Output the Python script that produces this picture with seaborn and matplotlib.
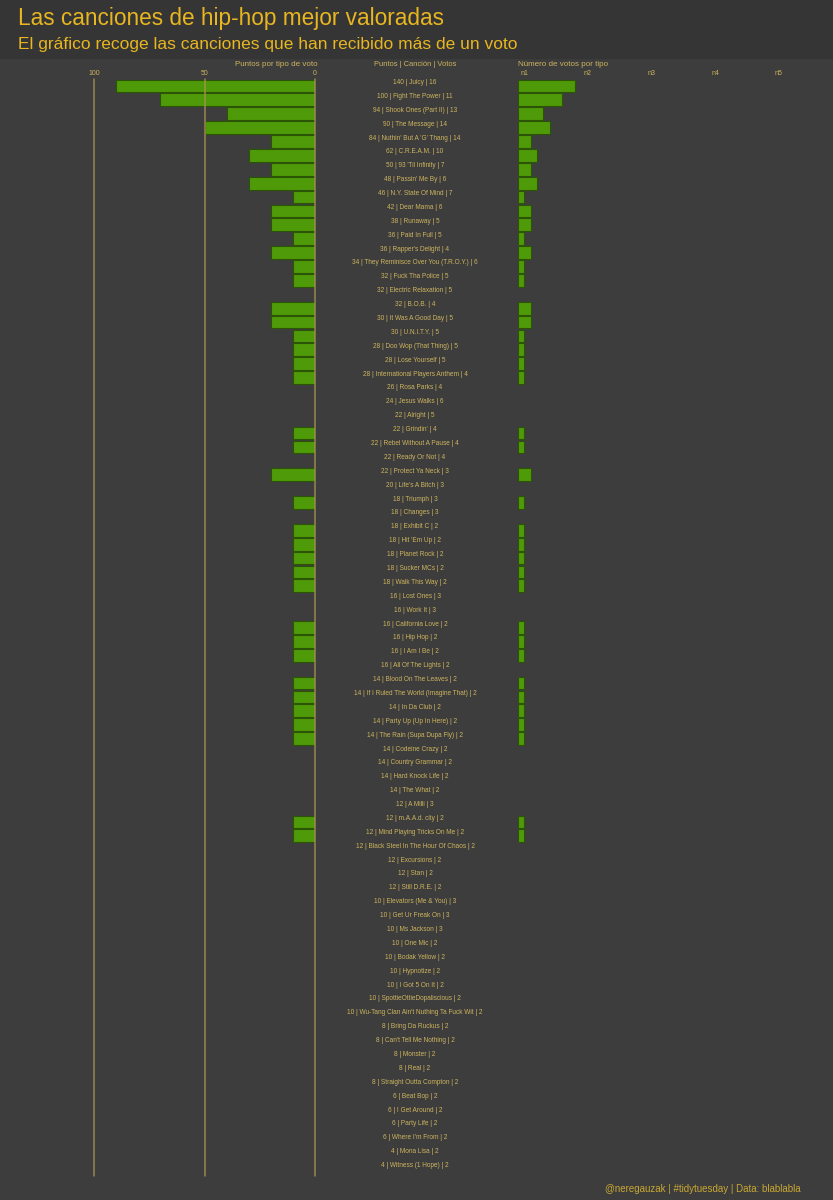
import matplotlib.pyplot as plt
import matplotlib.patches as mpatches
import numpy as np
import pandas as pd
import seaborn as sns

# datos
canciones = [
    "Juicy", "Fight The Power", "Shook Ones (Part II)", "The Message",
    "Nuthin' But A 'G' Thang", "C.R.E.A.M.", "93 'Til Infinity", "Passin' Me By",
    "N.Y. State Of Mind", "Dear Mama", "Runaway", "Paid In Full",
    "Rapper's Delight", "They Reminisce Over You (T.R.O.Y.)", "Fuck Tha Police",
    "Electric Relaxation", "B.O.B.", "It Was A Good Day", "U.N.I.T.Y.",
    "Doo Wop (That Thing)", "Lose Yourself", "International Players Anthem",
    "Rosa Parks", "Jesus Walks", "Alright", "Grindin'", "Rebel Without A Pause",
    "Ready Or Not", "Protect Ya Neck", "Life's A Bitch", "Triumph", "Changes",
    "Exhibit C", "Hit 'Em Up", "Planet Rock", "Sucker MCs", "Walk This Way",
    "Lost Ones", "Work It", "California Love", "Hip Hop", "I Am I Be",
    "All Of The Lights", "Blood On The Leaves", "If I Ruled The World (Imagine That)",
    "In Da Club", "Party Up (Up In Here)", "The Rain (Supa Dupa Fly)",
    "Codeine Crazy", "Country Grammar", "Hard Knock Life", "The What", "A Milli",
    "m.A.A.d. city", "Mind Playing Tricks On Me", "Black Steel In The Hour Of Chaos",
    "Excursions", "Stan", "Still D.R.E.", "Elevators (Me & You)", "Get Ur Freak On",
    "Ms Jackson", "One Mic", "Bodak Yellow", "Hypnotize", "I Got 5 On It",
    "SpottieOttieDopaliscious", "Wu-Tang Clan Ain't Nuthing Ta Fuck Wit",
    "Bring Da Ruckus", "Can't Tell Me Nothing", "Monster", "Real",
    "Straight Outta Compton", "Beat Bop", "I Get Around", "Party Life",
    "Where I'm From", "Mona Lisa", "Witness (1 Hope)",
]
puntos = [
    140, 100, 94, 90, 84, 62, 50, 48, 46, 42, 38, 36, 36, 34, 32, 32, 32, 30, 30,
    28, 28, 28, 26, 24, 22, 22, 22, 22, 22, 20, 18, 18, 18, 18, 18, 18, 18, 16,
    16, 16, 16, 16, 16, 14, 14, 14, 14, 14, 14, 14, 14, 14, 12, 12, 12, 12, 12,
    12, 12, 10, 10, 10, 10, 10, 10, 10, 10, 10, 8, 8, 8, 8, 8, 6, 6, 6, 6, 4, 4,
]
votos = [
    16, 11, 13, 14, 14, 10, 7, 6, 7, 6, 5, 5, 4, 6, 5, 5, 4, 5, 5, 5, 5, 4, 4,
    6, 5, 4, 4, 4, 3, 3, 3, 3, 2, 2, 2, 2, 2, 3, 3, 2, 2, 2, 2, 2, 2, 2, 2, 2,
    2, 2, 2, 2, 3, 2, 2, 2, 2, 2, 2, 3, 3, 3, 2, 2, 2, 2, 2, 2, 2, 2, 2, 2, 2,
    2, 2, 2, 2, 2, 2,
]
# puntos y numero de votos del primer tipo (n1)
puntos_n1 = [
    90, 70, 40, 50, 20, 30, 20, 30, 10, 20, 20, 10, 20, 10, 10, 0, 20, 20, 10,
    10, 10, 10, 0, 0, 0, 10, 10, 0, 20, 0, 10, 0, 10, 10, 10, 10, 10, 0, 0, 10,
    10, 10, 0, 10, 10, 10, 10, 10, 0, 0, 0, 0, 0, 10, 10, 0, 0, 0, 0, 0, 0, 0,
    0, 0, 0, 0, 0, 0, 0, 0, 0, 0, 0, 0, 0, 0, 0, 0, 0,
]
votos_n1 = [
    9, 7, 4, 5, 2, 3, 2, 3, 1, 2, 2, 1, 2, 1, 1, 0, 2, 2, 1, 1, 1, 1, 0, 0, 0,
    1, 1, 0, 2, 0, 1, 0, 1, 1, 1, 1, 1, 0, 0, 1, 1, 1, 0, 1, 1, 1, 1, 1, 0, 0,
    0, 0, 0, 1, 1, 0, 0, 0, 0, 0, 0, 0, 0, 0, 0, 0, 0, 0, 0, 0, 0, 0, 0, 0, 0,
    0, 0, 0, 0,
]
ticks_tipo = ["n1", "n2", "n3", "n4", "n5"]

etiquetas = [f"{p} | {c} | {v}" for p, c, v in zip(puntos, canciones, votos)]
df = pd.DataFrame({
    "etiqueta": etiquetas,
    "puntos_n1": puntos_n1,
    "votos_n1": votos_n1,
}).replace(0, np.nan)

# colores
FONDO = "#3d3d3d"
BANDA = "#353535"
AMARILLO = "#e8b620"
TEXTO = "#cdb45e"
VERDE = "#4e9a08"
BORDE = "#2c5406"
LINEA = "#a89450"

sns.set_theme(style="dark")
plt.rcParams["font.family"] = ["Liberation Sans", "DejaVu Sans"]

W, H = 833, 1200
fig = plt.figure(figsize=(W / 100, H / 100), dpi=100, facecolor=FONDO)
fig.patches.append(mpatches.Rectangle((0, 1 - 58 / H), 1, 58 / H, transform=fig.transFigure,
                                      color=BANDA, zorder=0))


def px_axes(x0, x1, y0=79, y1=1176):
    return fig.add_axes([x0 / W, 1 - y1 / H, (x1 - x0) / W, (y1 - y0) / H])


n = len(etiquetas)

# panel izquierdo: puntos por tipo de voto
ax_izq = px_axes(94, 315)
sns.barplot(data=df, x="puntos_n1", y="etiqueta", order=etiquetas, orient="h",
            color=VERDE, edgecolor=BORDE, linewidth=0.8, width=0.92,
            errorbar=None, saturation=1, ax=ax_izq)
ax_izq.set_xlim(100, 0)
ax_izq.set_ylim(n - 0.5, -0.5)
ax_izq.xaxis.tick_top()
ax_izq.set_xticks([100, 50, 0])
ax_izq.set_yticks([])
ax_izq.tick_params(axis="x", length=0, pad=1.5, labelsize=5, colors=TEXTO)
ax_izq.set_xlabel("")
ax_izq.set_ylabel("")
ax_izq.set_facecolor("none")
for v in [100, 50, 0]:
    ax_izq.axvline(v, color=LINEA, lw=1.1, alpha=0.85, zorder=5, clip_on=False)

# panel derecho: numero de votos por tipo
ax_der = px_axes(518, 823)
sns.barplot(data=df, x="votos_n1", y="etiqueta", order=etiquetas, orient="h",
            color=VERDE, edgecolor=BORDE, linewidth=0.8, width=0.92,
            errorbar=None, saturation=1, ax=ax_der)
ax_der.set_xlim(0, 48)
ax_der.set_ylim(n - 0.5, -0.5)
ax_der.xaxis.tick_top()
ax_der.set_xticks([1, 11, 21, 31, 41])
ax_der.set_xticklabels(ticks_tipo)
ax_der.set_yticks([])
ax_der.tick_params(axis="x", length=0, pad=1.5, labelsize=5, colors=TEXTO)
ax_der.set_xlabel("")
ax_der.set_ylabel("")
ax_der.set_facecolor("none")

# panel central: etiquetas
ax_mid = px_axes(320, 510)
ax_mid.set_xlim(0, 1)
ax_mid.set_ylim(n - 0.5, -0.5)
ax_mid.axis("off")
for i, txt in enumerate(etiquetas):
    ax_mid.text(0.5, i - 0.25, txt, ha="center", va="center", fontsize=4.7, color=TEXTO)

for ax in [ax_izq, ax_der]:
    for s in ax.spines.values():
        s.set_visible(False)
    ax.grid(False)

# cabeceras
fig.text(318 / W, 1 - 65 / H, "Puntos por tipo de voto", ha="right", va="center",
         fontsize=5.8, color=TEXTO)
fig.text(415 / W, 1 - 65 / H, "Puntos | Canción | Votos", ha="center", va="center",
         fontsize=5.4, color=TEXTO)
fig.text(518 / W, 1 - 65 / H, "Número de votos por tipo", ha="left", va="center",
         fontsize=5.8, color=TEXTO)

# titulos
fig.text(18 / W, 1 - 18 / H, "Las canciones de hip-hop mejor valoradas", ha="left",
         va="center", fontsize=16.3, color=AMARILLO)
fig.text(18 / W, 1 - 45 / H,
         "El gráfico recoge las canciones que han recibido más de un voto",
         ha="left", va="center", fontsize=12.5, color=AMARILLO)
fig.text(801 / W, 1 - 1189 / H, "@neregauzak | #tidytuesday | Data: blablabla",
         ha="right", va="center", fontsize=7, color="#c9a832")

fig.savefig("out.png", dpi=100, facecolor=FONDO)
